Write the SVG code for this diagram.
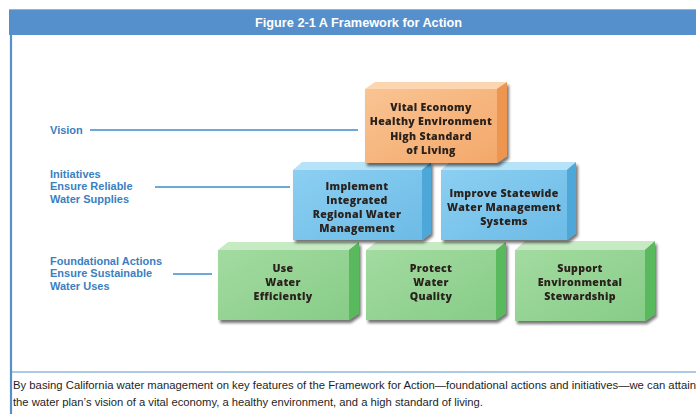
<svg xmlns="http://www.w3.org/2000/svg" width="696" height="414" viewBox="0 0 696 414">
  <defs>
    <filter id="shadow" x="-10%" y="-10%" width="130%" height="140%">
      <feGaussianBlur in="SourceAlpha" stdDeviation="1.6"/>
      <feOffset dx="1.5" dy="3" result="b"/>
      <feComponentTransfer><feFuncA type="linear" slope="0.55"/></feComponentTransfer>
      <feMerge><feMergeNode/><feMergeNode in="SourceGraphic"/></feMerge>
    </filter>
    <linearGradient id="orangeFront" x1="0" y1="0" x2="1" y2="1">
      <stop offset="0" stop-color="#f9c493"/>
      <stop offset="1" stop-color="#f4a86a"/>
    </linearGradient>
    <linearGradient id="blueFront" x1="0" y1="0" x2="1" y2="1">
      <stop offset="0" stop-color="#8ccff2"/>
      <stop offset="1" stop-color="#6cbbe6"/>
    </linearGradient>
    <linearGradient id="greenFront" x1="0" y1="0" x2="1" y2="1">
      <stop offset="0" stop-color="#a3dba0"/>
      <stop offset="1" stop-color="#87cc88"/>
    </linearGradient>
  </defs>
  <style>
    .label { font-family: "Liberation Sans", Arial, sans-serif; font-weight: 700; font-size: 11px; fill: #3b7fc1; }
    .box-text { font-family: "Open Sans", Lato, "Liberation Sans", sans-serif; font-weight: 800; font-size: 10.6px; fill: #2b211d; text-anchor: middle; letter-spacing: 0.3px; }
    .caption { font-family: "Liberation Sans", Arial, sans-serif; font-size: 10.5px; fill: #1e1e1e; }
    .leader { stroke: #3a8ccc; stroke-width: 1.6; fill: none; }
    .orange .top { fill: #fbd6b0; } .orange .side { fill: #ee9650; } .orange .front { fill: url(#orangeFront); }
    .blue .top { fill: #b6e3f7; } .blue .side { fill: #4ea7d8; } .blue .front { fill: url(#blueFront); }
    .green .top { fill: #c6eac2; } .green .side { fill: #58b95d; } .green .front { fill: url(#greenFront); }
  </style>

  <!-- page frame and title bar -->
  <rect x="9" y="9" width="687" height="26" fill="#5590cc"/>
  <line x1="9" y1="9.5" x2="696" y2="9.5" stroke="#8db5de" stroke-width="1"/>
  <line x1="11" y1="35" x2="11" y2="414" stroke="#5590cc" stroke-width="2.2"/>
  <text x="255" y="27" textLength="207" lengthAdjust="spacingAndGlyphs" font-family="'Liberation Sans', Arial, sans-serif" font-weight="bold" font-size="12.5" fill="#ffffff">Figure 2-1  A Framework for Action</text>

  <!-- tier labels -->
  <g id="label-vision">
    <text class="label" x="50" y="134">Vision</text>
  </g>
  <g id="label-initiatives">
    <text class="label" x="50" y="177.5">Initiatives</text>
    <text class="label" x="50" y="190">Ensure Reliable</text>
    <text class="label" x="50" y="202.5">Water Supplies</text>
  </g>
  <g id="label-foundational">
    <text class="label" x="50" y="264.5">Foundational Actions</text>
    <text class="label" x="50" y="277">Ensure Sustainable</text>
    <text class="label" x="50" y="289.5">Water Uses</text>
  </g>

  <!-- leader lines -->
  <g id="connectors">
    <line class="leader" x1="90" y1="130" x2="358" y2="130"/>
    <line class="leader" x1="155" y1="187" x2="290" y2="187"/>
    <line class="leader" x1="173" y1="274" x2="212" y2="274"/>
  </g>

  <!-- foundational actions (green) -->
  <g id="use-water-efficiently" class="green" filter="url(#shadow)">
    <polygon class="top" points="218,250 228,242 359,242 349,250"/>
    <polygon class="side" points="349,250 359,242 359,313 349,320"/>
    <rect class="front" x="218" y="250" width="131" height="70"/>
    <text class="box-text" x="283" y="272">Use</text>
    <text class="box-text" x="283" y="286">Water</text>
    <text class="box-text" x="283" y="300">Efficiently</text>
  </g>
  <g id="protect-water-quality" class="green" filter="url(#shadow)">
    <polygon class="top" points="366,250 376,242 506,242 496,250"/>
    <polygon class="side" points="496,250 506,242 506,313 496,320"/>
    <rect class="front" x="366" y="250" width="130" height="70"/>
    <text class="box-text" x="431" y="272">Protect</text>
    <text class="box-text" x="431" y="286">Water</text>
    <text class="box-text" x="431" y="300">Quality</text>
  </g>
  <g id="support-environmental-stewardship" class="green" filter="url(#shadow)">
    <polygon class="top" points="515,250 525,241 655,241 645,250"/>
    <polygon class="side" points="645,250 655,241 655,314 645,321"/>
    <rect class="front" x="515" y="250" width="130" height="71"/>
    <text class="box-text" x="580" y="272">Support</text>
    <text class="box-text" x="580" y="286">Environmental</text>
    <text class="box-text" x="580" y="300">Stewardship</text>
  </g>

  <!-- initiatives (blue) -->
  <g id="implement-irwm" class="blue" filter="url(#shadow)">
    <polygon class="top" points="293,170 302,162 431,162 422,170"/>
    <polygon class="side" points="422,170 431,162 431,233 422,240"/>
    <rect class="front" x="293" y="170" width="129" height="70"/>
    <text class="box-text" x="357" y="190">Implement</text>
    <text class="box-text" x="357" y="204">Integrated</text>
    <text class="box-text" x="357" y="218">Regional Water</text>
    <text class="box-text" x="357" y="232">Management</text>
  </g>
  <g id="improve-statewide-systems" class="blue" filter="url(#shadow)">
    <polygon class="top" points="441,170 450,162 576,162 567,170"/>
    <polygon class="side" points="567,170 576,162 576,233 567,240"/>
    <rect class="front" x="441" y="170" width="126" height="70"/>
    <text class="box-text" x="504" y="197">Improve Statewide</text>
    <text class="box-text" x="504" y="211">Water Management</text>
    <text class="box-text" x="504" y="225">Systems</text>
  </g>

  <!-- vision (orange) -->
  <g id="vision" class="orange" filter="url(#shadow)">
    <polygon class="top" points="365,89 375,82 507,82 497,89"/>
    <polygon class="side" points="497,89 507,82 507,156 497,163"/>
    <rect class="front" x="365" y="89" width="132" height="74"/>
    <text class="box-text" x="431" y="111">Vital Economy</text>
    <text class="box-text" x="431" y="125">Healthy Environment</text>
    <text class="box-text" x="431" y="140">High Standard</text>
    <text class="box-text" x="431" y="154">of Living</text>
  </g>

  <!-- caption -->
  <line x1="11" y1="372" x2="696" y2="372" stroke="#5a94cc" stroke-width="1"/>
  <text class="caption" x="13" y="389" textLength="683" lengthAdjust="spacingAndGlyphs">By basing California water management on key features of the Framework for Action—foundational actions and initiatives—we can attain</text>
  <text class="caption" x="13" y="406" textLength="470" lengthAdjust="spacingAndGlyphs">the water plan’s vision of a vital economy, a healthy environment, and a high standard of living.</text>
</svg>
